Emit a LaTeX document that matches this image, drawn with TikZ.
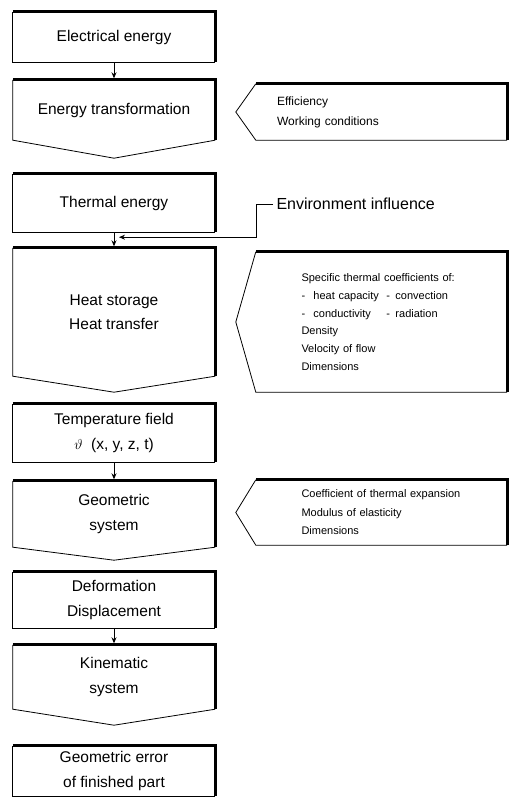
\documentclass[tikz,border=0pt]{standalone}
\usepackage{fontspec}
\setmainfont{Liberation Sans}
\usetikzlibrary{arrows.meta,calc}

\begin{document}
\begin{tikzpicture}[x=1pt,y=-1pt,>={Stealth[length=6pt,width=5pt]},
  stage/.style={minimum width=202pt,inner sep=0pt,align=center,font=\fontsize{15.5}{24.5}\selectfont},
  note/.style={minimum width=251pt,inner ysep=0pt,align=left,font=\fontsize{11}{18.5}\selectfont},
  thinline/.style={line width=0.8pt},
  heavy/.style={line width=3.3pt,line join=miter}]
  \useasboundingbox (0,0) rectangle (518,797);
  % left column: the process chain
  \node[stage,minimum height=50pt] (elec) at (114,37) {Electrical energy};
  \node[stage,minimum height=60pt] (trans) at (114,110) {Energy transformation};
  \node[stage,minimum height=58pt] (therm) at (114,203) {Thermal energy};
  \node[stage,minimum height=128pt] (heat) at (114,312) {Heat storage\\Heat transfer};
  \node[stage,minimum height=58pt] (temp) at (114,433) {Temperature field\\$\vartheta$\ \ (x, y, z, t)};
  \node[stage,minimum height=66pt] (geo) at (114,514) {Geometric\\system};
  \node[stage,minimum height=56pt] (deform) at (114,600) {Deformation\\Displacement};
  \node[stage,minimum height=64pt] (kin) at (114,677) {Kinematic\\system};
  \node[stage,minimum height=50pt] (err) at (114,771) {Geometric error\\of finished part};
  % right column: influencing parameters
  \node[note,inner xsep=21pt,text width=209pt,minimum height=56pt,font=\fontsize{12}{20}\selectfont] (effnote) at (381.5,112) {Efficiency\\Working conditions};
  \node[note,inner xsep=45.5pt,text width=160pt,minimum height=140pt,font=\fontsize{11}{17.8}\selectfont] (heatnote) at (381.5,322)
    {Specific thermal coefficients of:\\
     \makebox[12pt][l]{-}\makebox[73pt][l]{heat capacity}\makebox[9pt][l]{-}convection\\
     \makebox[12pt][l]{-}\makebox[73pt][l]{conductivity}\makebox[9pt][l]{-}radiation\\
     Density\\Velocity of flow\\Dimensions};
  \node[note,inner xsep=45.5pt,text width=160pt,minimum height=65pt] (geonote) at (381.5,512.5)
    {Coefficient of thermal expansion\\Modulus of elasticity\\Dimensions};
  \node[anchor=west,font=\fontsize{16}{18}\selectfont] (envtext) at (273,204) {Environment influence};
  % outlines
  \foreach \n in {elec,therm,temp,deform,err} {
    \draw[thinline] (\n.north west) -- (\n.south west) -- (\n.south east);
    \draw[heavy] (\n.north west) -- (\n.north east) -- (\n.south east);
  }
  \foreach \n/\d in {trans/18,heat/16,geo/13,kin/16} {
    \draw[thinline] (\n.north west) -- (\n.south west) -- ($(\n.south)+(0,\d)$) -- (\n.south east);
    \draw[heavy] (\n.north west) -- (\n.north east) -- (\n.south east);
  }
  \foreach \n in {effnote,heatnote,geonote} {
    \draw[thinline] (\n.north west) -- ($(\n.west)+(-20,0)$) -- (\n.south west) -- (\n.south east);
    \draw[heavy] (\n.north west) -- (\n.north east) -- (\n.south east);
  }
  % connectors
  \draw[thinline,->,shorten >=1.5pt] (elec.south) -- (trans.north);
  \draw[thinline,->,shorten >=1.5pt] (therm.south) -- (heat.north);
  \draw[thinline,->,shorten >=1.5pt] (temp.south) -- (geo.north);
  \draw[thinline,->,shorten >=1.5pt] (deform.south) -- (kin.north);
  \coordinate (envin) at ($(therm.south)+(5,5)$);
  \draw[thinline,->] (envtext.west) -- ++(-17,0) |- (envin);
\end{tikzpicture}
\end{document}
